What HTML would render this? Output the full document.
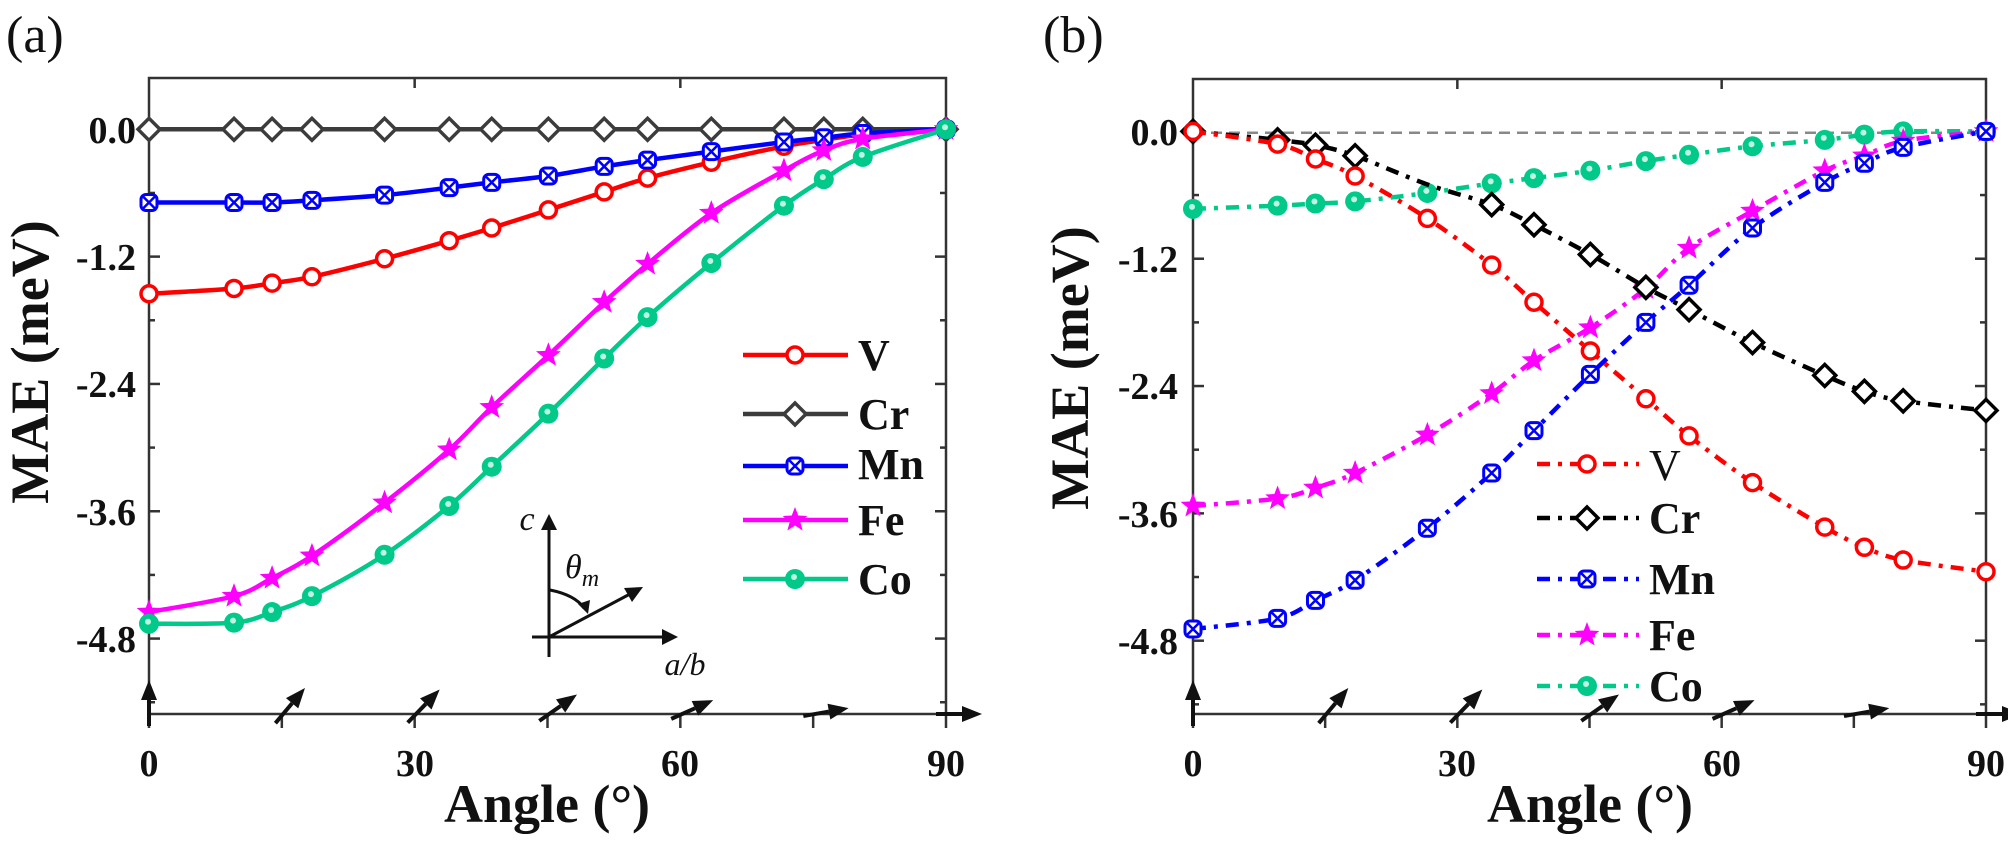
<!DOCTYPE html>
<html><head><meta charset="utf-8"><style>
html,body{margin:0;padding:0;background:#fff;}
svg{display:block;font-family:"Liberation Serif","DejaVu Serif",serif;}
svg text{font-family:"Liberation Serif","DejaVu Serif",serif !important;}
.tl{font-size:38px;font-weight:bold;fill:#111;}
.lg{font-size:44px;font-weight:bold;fill:#111;}
</style></head><body>
<svg id="s" width="2008" height="841" viewBox="0 0 2008 841" xmlns="http://www.w3.org/2000/svg" font-family="Liberation Serif, serif">
<text x="6" y="52" font-size="52" fill="#111" font-family="Liberation Serif, serif">(a)</text>
<text x="1043" y="52" font-size="52" fill="#111" font-family="Liberation Serif, serif">(b)</text>
<g id="axes"></g>
<g id="series"></g>
<g class="tl" text-anchor="end" font-family="Liberation Serif, serif">
<text x="136" y="143">0.0</text><text x="136" y="270">-1.2</text><text x="136" y="397">-2.4</text><text x="136" y="525">-3.6</text><text x="136" y="652">-4.8</text>
<text x="1178" y="145">0.0</text><text x="1178" y="272">-1.2</text><text x="1178" y="399">-2.4</text><text x="1178" y="527">-3.6</text><text x="1178" y="654">-4.8</text>
</g>
<g class="tl" text-anchor="middle" font-family="Liberation Serif, serif">
<text x="149" y="776">0</text><text x="415" y="776">30</text><text x="680" y="776">60</text><text x="946" y="776">90</text>
<text x="1193" y="776">0</text><text x="1457" y="776">30</text><text x="1722" y="776">60</text><text x="1986" y="776">90</text>
</g>
<text x="547" y="822" font-size="54" font-weight="bold" text-anchor="middle" fill="#111" font-family="Liberation Serif, serif">Angle (°)</text>
<text x="1590" y="822" font-size="54" font-weight="bold" text-anchor="middle" fill="#111" font-family="Liberation Serif, serif">Angle (°)</text>
<text transform="translate(48,362) rotate(-90)" font-size="54" font-weight="bold" text-anchor="middle" fill="#111" font-family="Liberation Serif, serif">MAE (meV)</text>
<text transform="translate(1088,368) rotate(-90)" font-size="54" font-weight="bold" text-anchor="middle" fill="#111" font-family="Liberation Serif, serif">MAE (meV)</text>
<g stroke="#111" stroke-width="3" fill="none">
<line x1="549" y1="657" x2="549" y2="528"/>
<line x1="532" y1="637" x2="664" y2="637"/>
<line x1="549" y1="637" x2="630" y2="594"/>
<path d="M550,590 Q575,595 584,608"/>
</g>
<g fill="#111">
<polygon points="549,514 541,530 557,530"/>
<polygon points="678,637 662,629 662,645"/>
<polygon points="643,587 624,588 632,602"/>
<polygon points="588,614 578,604 590,600"/>
</g>
<text x="527" y="530" font-size="34" font-style="italic" text-anchor="middle" fill="#111" font-family="Liberation Serif, serif">c</text>
<text x="565" y="578" font-size="34" font-style="italic" fill="#111" font-family="Liberation Serif, serif">θ<tspan font-size="24" dy="8">m</tspan></text>
<text x="685" y="675" font-size="32" font-style="italic" text-anchor="middle" fill="#111" font-family="Liberation Serif, serif">a/b</text>
<g class="lg" font-family="Liberation Serif, serif">
<text x="858" y="370">V</text><text x="858" y="429">Cr</text><text x="858" y="479">Mn</text><text x="858" y="535">Fe</text><text x="858" y="594">Co</text>
<text x="1649" y="480" font-weight="normal">V</text><text x="1649" y="533">Cr</text><text x="1649" y="594">Mn</text><text x="1649" y="650">Fe</text><text x="1649" y="701">Co</text>
</g>
</svg>
<script>
var NS="http://www.w3.org/2000/svg";
function el(tag,attrs,parent){var e=document.createElementNS(NS,tag);for(var k in attrs)e.setAttribute(k,attrs[k]);(parent||document.getElementById('series')).appendChild(e);return e;}
var ax=document.getElementById('axes');
var P={a:{x0:149,x1:946,y0:129.3,top:78,bot:714},b:{x0:1193,x1:1986,y0:131.4,top:79,bot:714}};
var K=106.1;
function X(p,d){return p.x0+d*(p.x1-p.x0)/90;}
function Y(p,v){return p.y0-v*K;}
['a','b'].forEach(function(k){var p=P[k];
 el('rect',{x:p.x0,y:p.top,width:p.x1-p.x0,height:p.bot-p.top,fill:'none',stroke:'#333','stroke-width':2.5},ax);
 for(var i=0;i<=9;i++){var v=-0.6*i;var y=Y(p,v);if(y>p.bot-2)continue;var L=(i%2==0)?11:6;
  el('line',{x1:p.x0,y1:y,x2:p.x0+L,y2:y,stroke:'#333','stroke-width':2.5},ax);
  el('line',{x1:p.x1,y1:y,x2:p.x1-L,y2:y,stroke:'#333','stroke-width':2.5},ax);}
 for(var d=0;d<=90;d+=15){var x=X(p,d);el('line',{x1:x,y1:p.bot,x2:x,y2:p.bot+14,stroke:'#333','stroke-width':2.5},ax);
  if(d%30==0&&d>0&&d<90)el('line',{x1:x,y1:p.top,x2:x,y2:p.top+10,stroke:'#333','stroke-width':2.5},ax);}
 var angs={0:0,15:40,30:44,45:55,60:66,75:80,90:90};
 for(var d=0;d<=90;d+=15){var a=angs[d]*Math.PI/180;var sx=Math.sin(a),sy=-Math.cos(a);
  var bx=X(p,d)-sx*10,by=p.bot-sy*12;var tx=bx+sx*46,ty=by+sy*46;
  var hx=tx-sx*20,hy=ty-sy*20;var nx=-sy,ny=sx;
  el('line',{x1:bx,y1:by,x2:hx,y2:hy,stroke:'#111','stroke-width':4},ax);
  el('polygon',{points:tx+','+ty+' '+(hx+nx*8)+','+(hy+ny*8)+' '+(hx-nx*8)+','+(hy-ny*8),fill:'#111'},ax);}
});
el('line',{x1:1193,y1:132.7,x2:1986,y2:132.7,stroke:'#888','stroke-width':2.5,'stroke-dasharray':'11 7'},ax);
var D=[0,9.6,13.9,18.4,26.6,33.9,38.7,45.1,51.4,56.3,63.5,71.7,76.2,80.6,90];
var A={
V:[-1.55,-1.50,-1.45,-1.39,-1.22,-1.05,-0.93,-0.76,-0.59,-0.46,-0.31,-0.16,-0.10,-0.05,0],
Cr:[0,0,0,0,0,0,0,0,0,0,0,0,0,0,0],
Mn:[-0.69,-0.69,-0.69,-0.67,-0.62,-0.55,-0.50,-0.44,-0.35,-0.29,-0.21,-0.12,-0.08,-0.04,0],
Fe:[-4.55,-4.40,-4.23,-4.02,-3.52,-3.02,-2.62,-2.13,-1.63,-1.27,-0.79,-0.39,-0.20,-0.09,0],
Co:[-4.66,-4.65,-4.55,-4.40,-4.01,-3.55,-3.18,-2.68,-2.16,-1.77,-1.26,-0.72,-0.47,-0.26,0]};
var B={
V:[0,-0.12,-0.26,-0.42,-0.82,-1.26,-1.61,-2.07,-2.52,-2.87,-3.31,-3.73,-3.92,-4.04,-4.15],
Cr:[0,-0.08,-0.13,-0.23,-0.50,-0.69,-0.88,-1.16,-1.47,-1.68,-1.99,-2.30,-2.45,-2.54,-2.63],
Mn:[-4.69,-4.59,-4.42,-4.23,-3.74,-3.22,-2.82,-2.29,-1.80,-1.45,-0.91,-0.48,-0.30,-0.15,0],
Fe:[-3.53,-3.46,-3.36,-3.22,-2.86,-2.47,-2.16,-1.85,-1.48,-1.10,-0.75,-0.37,-0.23,-0.09,0],
Co:[-0.73,-0.70,-0.68,-0.66,-0.58,-0.49,-0.44,-0.37,-0.28,-0.22,-0.14,-0.08,-0.03,0,0]};
var C={V:'#ff0000',Cr:'#3c3c3c',Mn:'#0000ff',Fe:'#ff00ff',Co:'#00c98a'};
function smooth(pts){var d='M'+pts[0][0]+','+pts[0][1];for(var i=0;i<pts.length-1;i++){var p0=pts[i-1]||pts[i],p1=pts[i],p2=pts[i+1],p3=pts[i+2]||p2;
 var c1x=p1[0]+(p2[0]-p0[0])/6,c1y=p1[1]+(p2[1]-p0[1])/6,c2x=p2[0]-(p3[0]-p1[0])/6,c2y=p2[1]-(p3[1]-p1[1])/6;
 d+=' C'+c1x+','+c1y+' '+c2x+','+c2y+' '+p2[0]+','+p2[1];}return d;}
function star(x,y,R,r){var s='';for(var i=0;i<10;i++){var a=-Math.PI/2+i*Math.PI/5;var rr=i%2?r:R;s+=(x+rr*Math.cos(a))+','+(y+rr*Math.sin(a))+' ';}return s;}
function marker(n,x,y,col){
 if(n=='V')el('circle',{cx:x,cy:y,r:8,fill:'#fff',stroke:col,'stroke-width':3.5});
 else if(n=='Cr')el('polygon',{points:x+','+(y-11)+' '+(x+11)+','+y+' '+x+','+(y+11)+' '+(x-11)+','+y,fill:'#fff',stroke:col,'stroke-width':3.5});
 else if(n=='Mn'){el('rect',{x:x-8,y:y-8,width:16,height:16,rx:5,fill:'#fff',stroke:col,'stroke-width':3});
  el('path',{d:'M'+(x-6)+','+(y-6)+'L'+(x+6)+','+(y+6)+'M'+(x+6)+','+(y-6)+'L'+(x-6)+','+(y+6),stroke:col,'stroke-width':2.5});}
 else if(n=='Fe')el('polygon',{points:star(x,y,13,5.5),fill:col});
 else {el('circle',{cx:x,cy:y,r:10,fill:col});el('circle',{cx:x-1,cy:y-2,r:3,fill:'#bff5e0'});}
}
['V','Cr','Mn','Fe','Co'].forEach(function(n){
 var pa=D.map(function(d,i){return [X(P.a,d),Y(P.a,A[n][i])];});
 el('path',{d:smooth(pa),fill:'none',stroke:C[n],'stroke-width':4.5});
 pa.forEach(function(q){marker(n,q[0],q[1],C[n]);});
});
var order=['Co','Fe','Mn','Cr','V'];
order.forEach(function(n){var col=n=='Cr'?'#000':C[n];
 var pb=D.map(function(d,i){return [X(P.b,d),Y(P.b,B[n][i])];});
 el('path',{d:smooth(pb),fill:'none',stroke:col,'stroke-width':4.5,'stroke-dasharray':'13 8 4 8'});
 pb.forEach(function(q,i){if(n=='Cr'&&i==4)return;marker(n,q[0],q[1],col);});
});
var la=[['V',355],['Cr',414],['Mn',466],['Fe',520],['Co',579]];
la.forEach(function(r){var col=C[r[0]];el('line',{x1:743,y1:r[1],x2:848,y2:r[1],stroke:col,'stroke-width':4.5});marker(r[0],795,r[1],col);});
var lb=[['V',464],['Cr',518],['Mn',579],['Fe',635],['Co',686]];
lb.forEach(function(r){var col=r[0]=='Cr'?'#000':C[r[0]];el('line',{x1:1537,y1:r[1],x2:1639,y2:r[1],stroke:col,'stroke-width':4.5,'stroke-dasharray':'13 8 4 8'});marker(r[0],1587,r[1],col);});
</script>
</body></html>
